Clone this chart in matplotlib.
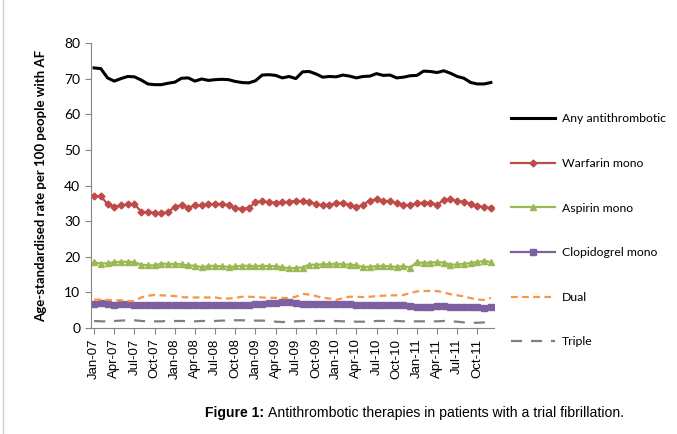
import matplotlib
matplotlib.use('Agg')
import matplotlib.pyplot as plt
from matplotlib.lines import Line2D

# monthly data, Jan-07 .. Dec-11
months = ['Jan', 'Feb', 'Mar', 'Apr', 'May', 'Jun', 'Jul', 'Aug', 'Sep', 'Oct', 'Nov', 'Dec']
years = ['07', '08', '09', '10', '11']
month_labels = ['%s-%s' % (m, y) for y in years for m in months]

any_antithrombotic = [73.0, 72.8, 70.2, 69.3, 70.0, 70.6, 70.5, 69.6, 68.5, 68.3,
                      68.3, 68.7, 69.0, 70.1, 70.2, 69.3, 69.9, 69.5, 69.7, 69.8,
                      69.7, 69.2, 68.9, 68.8, 69.4, 71.0, 71.1, 70.9, 70.2, 70.6,
                      70.0, 71.9, 72.0, 71.3, 70.4, 70.6, 70.5, 71.0, 70.7, 70.2,
                      70.6, 70.7, 71.4, 70.9, 71.0, 70.2, 70.4, 70.8, 70.9, 72.1,
                      72.0, 71.7, 72.2, 71.5, 70.6, 70.1, 68.9, 68.5, 68.5, 68.9]
warfarin_mono = [37.1, 37.0, 34.8, 34.1, 34.4, 34.8, 34.8, 32.7, 32.5, 32.4,
                 32.3, 32.5, 34.1, 34.5, 33.8, 34.4, 34.5, 34.7, 34.9, 34.8,
                 34.5, 33.6, 33.5, 33.7, 35.3, 35.6, 35.3, 35.2, 35.3, 35.5,
                 35.6, 35.7, 35.5, 34.7, 34.6, 34.6, 35.0, 35.2, 34.5, 33.9,
                 34.6, 35.8, 36.1, 35.6, 35.7, 35.0, 34.6, 34.5, 35.0, 35.2,
                 35.2, 34.6, 35.9, 36.2, 35.6, 35.5, 34.8, 34.3, 33.9, 33.8]
aspirin_mono = [18.5, 18.1, 18.2, 18.5, 18.6, 18.6, 18.5, 17.8, 17.6, 17.6,
                18.1, 18.0, 18.0, 17.9, 17.6, 17.5, 17.1, 17.4, 17.5, 17.3,
                17.2, 17.3, 17.5, 17.5, 17.4, 17.5, 17.4, 17.4, 17.1, 16.8,
                16.9, 17.0, 17.8, 17.8, 17.9, 17.9, 18.1, 17.9, 17.8, 17.7,
                17.1, 17.2, 17.4, 17.5, 17.3, 17.2, 17.4, 17.0, 18.5, 18.3,
                18.4, 18.5, 18.4, 17.8, 17.9, 18.0, 18.3, 18.5, 18.9, 18.5]
clopidogrel_mono = [6.8, 7.0, 6.8, 6.6, 6.7, 6.8, 6.6, 6.5, 6.4, 6.5,
                    6.6, 6.6, 6.6, 6.6, 6.6, 6.6, 6.6, 6.6, 6.5, 6.5,
                    6.6, 6.5, 6.5, 6.6, 6.8, 6.9, 7.0, 7.1, 7.3, 7.2,
                    7.1, 6.9, 6.8, 6.7, 6.7, 6.8, 6.9, 6.8, 6.7, 6.6,
                    6.6, 6.6, 6.6, 6.6, 6.6, 6.5, 6.4, 6.2, 6.0, 6.0,
                    6.0, 6.1, 6.1, 6.0, 6.0, 6.0, 5.9, 5.8, 5.7, 5.8]
dual = [8.0, 8.0, 7.9, 7.8, 7.8, 7.6, 7.6, 8.6, 9.1, 9.3,
        9.2, 9.1, 9.0, 8.7, 8.6, 8.6, 8.6, 8.6, 8.6, 8.3,
        8.3, 8.5, 8.8, 8.8, 8.7, 8.6, 8.5, 8.5, 8.5, 8.4,
        8.8, 9.6, 9.4, 9.0, 8.5, 8.3, 7.9, 8.4, 8.8, 8.8,
        8.7, 8.8, 9.0, 9.1, 9.2, 9.2, 9.3, 9.8, 10.3, 10.4,
        10.4, 10.4, 10.0, 9.5, 9.2, 8.9, 8.4, 8.0, 7.9, 8.5]
triple = [2.0, 1.9, 1.9, 2.0, 2.1, 2.2, 2.2, 2.0, 1.9, 1.9,
          1.9, 2.0, 2.0, 2.0, 1.9, 1.9, 2.0, 2.0, 2.0, 2.1,
          2.1, 2.2, 2.2, 2.1, 2.1, 2.1, 2.0, 1.8, 1.7, 1.8,
          1.9, 2.0, 2.0, 2.0, 2.0, 2.0, 2.0, 1.9, 1.9, 1.8,
          1.8, 1.9, 2.0, 2.0, 2.0, 2.0, 1.9, 1.9, 1.9, 1.9,
          1.9, 1.9, 2.0, 1.9, 1.8, 1.6, 1.5, 1.5, 1.6, 1.7]

x = list(range(len(month_labels)))

fig = plt.figure(figsize=(6.77, 4.34), dpi=100)
ax = fig.add_axes([0.134, 0.244, 0.596, 0.657])

ax.plot(x, any_antithrombotic, color='black', lw=2.2, label='Any antithrombotic')
ax.plot(x, warfarin_mono, color='#BE4B48', lw=1.6, marker='D', ms=3.5,
        label='Warfarin mono')
ax.plot(x, aspirin_mono, color='#98B954', lw=1.6, marker='^', ms=5,
        label='Aspirin mono')
ax.plot(x, clopidogrel_mono, color='#7D60A0', lw=1.6, marker='s', ms=4,
        label='Clopidogrel mono')
ax.plot(x, dual, color='#F79646', lw=1.6, dashes=(3, 2), label='Dual')
ax.plot(x, triple, color='#808080', lw=1.6, dashes=(5, 4), label='Triple')

ax.set_xlim(-0.5, 59.5)
ax.set_ylim(0, 80)
ax.set_yticks(range(0, 81, 10))
ax.set_xticks(x[::3])
ax.set_xticklabels(month_labels[::3], rotation=90, fontsize=9.5,
                   family='Liberation Sans')
for lab in ax.get_yticklabels():
    lab.set_family('Lato')
    lab.set_fontsize(10)
ax.tick_params(axis='both', direction='out', length=4, color='#868686')
for side in ['top', 'right']:
    ax.spines[side].set_visible(False)
for side in ['left', 'bottom']:
    ax.spines[side].set_color('#868686')

ax.set_ylabel('Age-standardised rate per 100 people with AF', fontsize=9.5,
              fontweight='bold', family='Lato', labelpad=12)

ax.legend(loc='upper left', bbox_to_anchor=(1.03, 0.77), frameon=False,
          prop={'family': 'Lato', 'size': 8.8}, handlelength=3.6,
          labelspacing=2.75, handletextpad=0.55, borderaxespad=0)

fig.add_artist(Line2D([0.004, 0.004], [0.0, 1.0], color='#cccccc', lw=1))

# caption: bold prefix followed by plain text
cap_y = 0.048
t1 = fig.text(205 / 677, cap_y, 'Figure 1:', fontsize=10.1, fontweight='bold',
              family='Liberation Sans', va='center', ha='left')
fig.canvas.draw()
bb = t1.get_window_extent()
fig.text((bb.x1 + 4) / fig.bbox.width, cap_y,
         'Antithrombotic therapies in patients with a trial fibrillation.',
         fontsize=10.1, family='Liberation Sans', va='center', ha='left')

fig.savefig('out.png', dpi=100)
